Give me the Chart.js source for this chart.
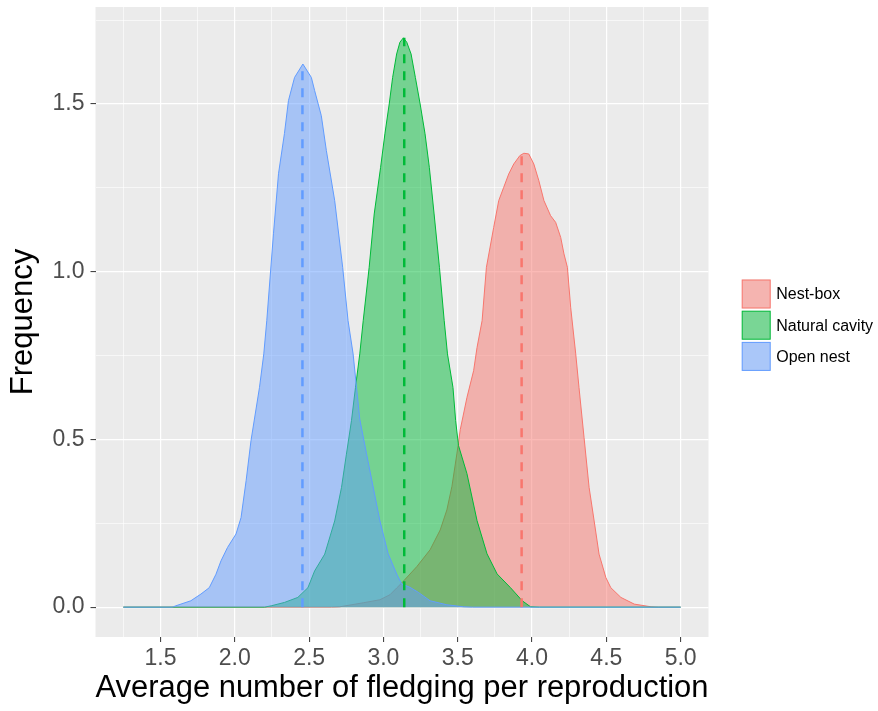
<!DOCTYPE html>
<html>
<head>
<meta charset="utf-8">
<title>Fledging per reproduction</title>
<script src="https://cdn.jsdelivr.net/npm/chart.js@4.4.1/dist/chart.umd.min.js"></script>
<style>
  body { margin: 0; background: #fff; }
  #wrap { width: 878px; height: 711px; position: relative; }
</style>
</head>
<body>
<div id="wrap"><canvas id="myChart"></canvas></div>
<script>

// density curves, one x/y pair of arrays per nest type
var nestBoxX = [1.25, 2.65, 2.706, 2.864, 2.976, 3.044, 3.089, 3.123, 3.225, 3.314, 3.382, 3.427, 3.461, 3.495, 3.517,
  3.562, 3.607, 3.630, 3.664, 3.693, 3.742, 3.776, 3.809, 3.843, 3.877, 3.918, 3.945, 3.978, 4.012, 4.046, 4.080,
  4.125, 4.159, 4.193, 4.215, 4.238, 4.260, 4.294, 4.316, 4.350, 4.384, 4.418, 4.451, 4.497, 4.530, 4.598, 4.688,
  4.801, 4.85, 5.0];
var nestBoxY = [0, 0, 0.001, 0.013, 0.022, 0.037, 0.057, 0.072, 0.121, 0.171, 0.230, 0.290, 0.360, 0.459, 0.529,
  0.625, 0.705, 0.774, 0.854, 1.013, 1.132, 1.212, 1.251, 1.291, 1.321, 1.346, 1.353, 1.351, 1.321, 1.271, 1.212,
  1.167, 1.147, 1.102, 1.053, 1.013, 0.894, 0.755, 0.655, 0.506, 0.357, 0.257, 0.158, 0.088, 0.058, 0.029, 0.009,
  0.001, 0, 0];

var cavityX = [1.25, 2.2, 2.245, 2.334, 2.424, 2.492, 2.537, 2.605, 2.672, 2.718, 2.751, 2.785, 2.812, 2.841, 2.864,
  2.904, 2.938, 2.981, 3.010, 3.039, 3.062, 3.089, 3.111, 3.134, 3.157, 3.186, 3.215, 3.247, 3.280, 3.309, 3.341,
  3.377, 3.409, 3.431, 3.468, 3.486, 3.505, 3.562, 3.630, 3.697, 3.765, 3.855, 3.934, 3.990, 4.05, 5.0];
var cavityY = [0, 0, 0.004, 0.014, 0.029, 0.058, 0.108, 0.158, 0.257, 0.357, 0.456, 0.556, 0.655, 0.755, 0.854,
  1.013, 1.172, 1.311, 1.411, 1.500, 1.579, 1.649, 1.684, 1.697, 1.684, 1.649, 1.579, 1.500, 1.411, 1.311, 1.172,
  1.013, 0.854, 0.755, 0.655, 0.556, 0.482, 0.398, 0.258, 0.159, 0.099, 0.058, 0.019, 0.001, 0, 0];

var openX = [1.25, 1.58, 1.603, 1.704, 1.772, 1.828, 1.873, 1.907, 1.951, 2.008, 2.042, 2.076, 2.109, 2.166, 2.195,
  2.215, 2.260, 2.294, 2.334, 2.361, 2.402, 2.458, 2.515, 2.537, 2.582, 2.616, 2.672, 2.726, 2.762, 2.796, 2.819,
  2.841, 2.886, 2.931, 2.976, 3.032, 3.089, 3.123, 3.179, 3.235, 3.314, 3.427, 3.539, 3.6, 5.0];
var openY = [0, 0, 0.004, 0.019, 0.039, 0.058, 0.098, 0.138, 0.178, 0.218, 0.267, 0.377, 0.497, 0.655, 0.755,
  0.854, 1.113, 1.292, 1.412, 1.510, 1.579, 1.619, 1.579, 1.540, 1.465, 1.361, 1.212, 1.012, 0.854, 0.755, 0.655,
  0.560, 0.458, 0.358, 0.258, 0.159, 0.099, 0.069, 0.059, 0.044, 0.019, 0.007, 0.001, 0, 0];

// mean of each group and the curve height there (dashed lines)
var groupNames = ["Nest-box", "Natural cavity", "Open nest"];
var groupMeans = [3.93, 3.14, 2.455];
var meanHeights = [1.353, 1.697, 1.619];

var xTicks = [1.25, 1.5, 1.75, 2.0, 2.25, 2.5, 2.75, 3.0, 3.25, 3.5, 3.75, 4.0, 4.25, 4.5, 4.75, 5.0];
var yTicks = [0, 0.25, 0.5, 0.75, 1.0, 1.25, 1.5, 1.75];
var xMajor = [1.5, 2.0, 2.5, 3.0, 3.5, 4.0, 4.5, 5.0];
var yMajor = [0, 0.5, 1.0, 1.5];

var lineCols = ["#F8766D", "#00BA38", "#619CFF"];
var fillCols = ["rgba(248,118,109,0.5)", "rgba(0,186,56,0.5)", "rgba(97,156,255,0.5)"];

Chart.defaults.font.family = "'Liberation Sans', Arial, sans-serif";

function pts(xs, ys) {
  var out = [];
  for (var i = 0; i < xs.length; i++) out.push({ x: xs[i], y: ys[i] });
  return out;
}

function isMajor(list, v) {
  for (var i = 0; i < list.length; i++) {
    if (Math.abs(list[i] - v) < 1e-9) return true;
  }
  return false;
}

var curves = [pts(nestBoxX, nestBoxY), pts(cavityX, cavityY), pts(openX, openY)];
var datasets = [];
for (var i = 0; i < 3; i++) {
  datasets.push({
    label: groupNames[i],
    data: curves[i],
    borderColor: lineCols[i],
    backgroundColor: fillCols[i],
    borderWidth: 1,
    fill: "origin",
    pointRadius: 0,
    tension: 0,
    order: 3 - i,
    inLegend: true
  });
}
for (var j = 0; j < 3; j++) {
  datasets.push({
    label: groupNames[j] + " mean",
    data: [{ x: groupMeans[j], y: 0 }, { x: groupMeans[j], y: meanHeights[j] }],
    borderColor: lineCols[j],
    borderWidth: 2.5,
    borderDash: [9, 8],
    fill: false,
    pointRadius: 0,
    order: 0
  });
}

// grey panel like ggplot
var panelBg = {
  id: "panelBg",
  beforeDraw: function(chart) {
    var a = chart.chartArea, c = chart.ctx;
    c.save();
    c.fillStyle = "#EBEBEB";
    c.fillRect(a.left, a.top, a.right - a.left, a.bottom - a.top);
    c.restore();
  }
};

// legend on the right, ggplot style keys
var sideLegend = {
  id: "sideLegend",
  afterDraw: function(chart) {
    var a = chart.chartArea, c = chart.ctx;
    var items = chart.data.datasets.filter(function(d) { return d.inLegend; });
    var key = 29, step = 31.2;
    var x0 = a.right + 33.2;
    var y0 = (a.top + a.bottom) / 2 - 42.5;
    c.save();
    c.font = "16px 'Liberation Sans', Arial, sans-serif";
    c.textBaseline = "middle";
    c.textAlign = "left";
    items.forEach(function(d, k) {
      var y = y0 + k * step;
      c.fillStyle = "#F2F2F2";
      c.fillRect(x0, y, key, key);
      c.fillStyle = d.backgroundColor;
      c.fillRect(x0 + 0.5, y + 0.5, key - 1, key - 1);
      c.strokeStyle = d.borderColor;
      c.lineWidth = 1;
      c.strokeRect(x0 + 0.5, y + 0.5, key - 1, key - 1);
      c.fillStyle = "#000";
      c.fillText(d.label, x0 + key + 5.5, y + key / 2 + 1);
    });
    c.restore();
  }
};

var ctx = document.getElementById("myChart").getContext("2d");
var myChart = new Chart(ctx, {
  type: "line",
  data: { datasets: datasets },
  options: {
    responsive: true,
    maintainAspectRatio: false,
    animation: false,
    layout: { padding: { left: 0, top: 7, right: 169.5, bottom: 0 } },
    plugins: {
      legend: { display: false },
      tooltip: { enabled: false }
    },
    scales: {
      x: {
        type: "linear",
        min: 1.0625,
        max: 5.1875,
        afterBuildTicks: function(scale) {
          scale.ticks = xTicks.map(function(v) { return { value: v }; });
        },
        afterFit: function(scale) {
          scale.height = 74;
          scale.paddingLeft = 0;
          scale.paddingRight = 0;
        },
        ticks: {
          autoSkip: false,
          maxRotation: 0,
          padding: 3,
          color: "#4D4D4D",
          font: { size: 23 },
          callback: function(v) { return isMajor(xMajor, v) ? v.toFixed(1) : ""; }
        },
        grid: {
          color: "#FFFFFF",
          lineWidth: function(c) { return isMajor(xMajor, c.tick.value) ? 1.2 : 0.6; },
          tickColor: function(c) { return isMajor(xMajor, c.tick.value) ? "#333333" : "rgba(0,0,0,0)"; },
          tickLength: 5,
          tickWidth: 1
        },
        border: { display: false },
        title: {
          display: true,
          text: "Average number of fledging per reproduction",
          color: "#000",
          font: { size: 31 },
          padding: { top: 0, bottom: 4 }
        }
      },
      y: {
        min: -0.089,
        max: 1.789,
        afterBuildTicks: function(scale) {
          scale.ticks = yTicks.map(function(v) { return { value: v }; });
        },
        afterFit: function(scale) {
          scale.width = 95.5;
          scale.paddingTop = 0;
          scale.paddingBottom = 0;
        },
        ticks: {
          autoSkip: false,
          padding: 6,
          color: "#4D4D4D",
          font: { size: 23 },
          callback: function(v) { return isMajor(yMajor, v) ? v.toFixed(1) : ""; }
        },
        grid: {
          color: "#FFFFFF",
          lineWidth: function(c) { return isMajor(yMajor, c.tick.value) ? 1.2 : 0.6; },
          tickColor: function(c) { return isMajor(yMajor, c.tick.value) ? "#333333" : "rgba(0,0,0,0)"; },
          tickLength: 5,
          tickWidth: 1
        },
        border: { display: false },
        title: {
          display: true,
          text: "Frequency",
          color: "#000",
          font: { size: 31 },
          padding: { top: 5, bottom: 0 }
        }
      }
    }
  },
  plugins: [panelBg, sideLegend]
});
</script>
</body>
</html>
